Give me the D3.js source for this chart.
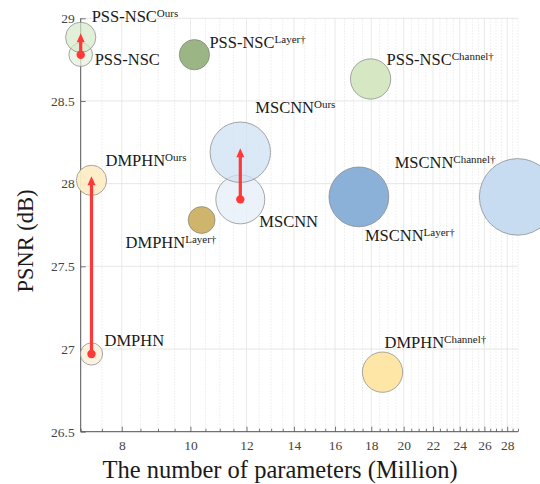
<!DOCTYPE html>
<html>
<head>
<meta charset="utf-8">
<script src="https://cdn.jsdelivr.net/npm/d3@7"></script>
<style>
  html, body { margin: 0; padding: 0; background: #fff; }
  svg { display: block; }
</style>
</head>
<body>
<svg id="chart" width="540" height="484"></svg>
<script>
// ---------- data ----------
const names    = ["PSS-NSC", "PSS-NSC", "PSS-NSC", "PSS-NSC", "MSCNN", "MSCNN", "MSCNN", "MSCNN", "DMPHN", "DMPHN", "DMPHN", "DMPHN"];
const variants = ["", "Ours", "Layer†", "Channel†", "", "Ours", "Layer†", "Channel†", "", "Ours", "Layer†", "Channel†"];
const params   = [7.0, 7.0, 10.13, 17.96, 11.76, 11.76, 17.29, 28.97, 7.25, 7.25, 10.37, 18.67]; // Million
const psnr     = [28.78, 28.885, 28.78, 28.633, 27.905, 28.19, 27.92, 27.92, 26.97, 28.02, 27.78, 26.86]; // dB
const bubble   = [9.5, 15.6, 15.6, 27.7, 40.9, 62.3, 61.0, 100, 8.4, 15.6, 12.3, 27.7]; // relative bubble size
const arrows   = [["PSS-NSC", "PSS-NSC Ours"], ["MSCNN", "MSCNN Ours"], ["DMPHN", "DMPHN Ours"]];
const xTicks   = [8, 10, 12, 14, 16, 18, 20, 22, 24, 26, 28];
const yTicks   = [26.5, 27, 27.5, 28, 28.5, 29];
const xDomain  = [7, 29];
const yDomain  = [26.5, 29];

// ---------- styles ----------
const fills = {
  "PSS-NSC": "#e4f0dc", "PSS-NSC Ours": "#d6eacb", "PSS-NSC Layer†": "#9bb585", "PSS-NSC Channel†": "#d5e8c3",
  "MSCNN": "#e7eff9", "MSCNN Ours": "#cfe0f1", "MSCNN Layer†": "#8cb1d9", "MSCNN Channel†": "#c8dcf1",
  "DMPHN": "#fcf1dd", "DMPHN Ours": "#fdedc6", "DMPHN Layer†": "#cfb56b", "DMPHN Channel†": "#fde6a6"
};
const opac = {
  "PSS-NSC": 0.75, "PSS-NSC Ours": 0.7, "MSCNN": 0.8, "MSCNN Ours": 0.75, "DMPHN": 0.9, "DMPHN Ours": 0.95
};
// label offsets relative to bubble centre (px): [dx, dy]
const labelOff = {
  "PSS-NSC": [14, 10], "PSS-NSC Ours": [11, -15], "PSS-NSC Layer†": [15, -7], "PSS-NSC Channel†": [16, -14],
  "MSCNN": [19, 28], "MSCNN Ours": [15, -39], "MSCNN Layer†": [6, 44], "MSCNN Channel†": [-123, -29],
  "DMPHN": [13, -8], "DMPHN Ours": [14, -14], "DMPHN Layer†": [-76, 28], "DMPHN Channel†": [2, -24]
};

const points = names.map((n, i) => ({
  name: n, variant: variants[i], key: variants[i] ? n + " " + variants[i] : n,
  x: params[i], y: psnr[i], s: bubble[i]
}));
const byKey = Object.fromEntries(points.map(p => [p.key, p]));

// ---------- layout ----------
const svg = d3.select("#chart");
const L = 80.7, R = 518, T = 18.3, B = 431.7;
const x = d3.scaleLog().domain(xDomain).range([L, R]);
const y = d3.scaleLinear().domain(yDomain).range([B, T]);
const r = d3.scaleSqrt().domain([0, 100]).range([0, 38.3]);
const serif = "'Liberation Serif', 'DejaVu Serif', serif";

// minor x ticks every 0.5
const minorX = d3.range(xDomain[0], xDomain[1] + 0.001, 0.5).filter(v => !xTicks.includes(v));

const grid = svg.append("g");
grid.selectAll("line.minor").data(minorX).join("line")
  .attr("x1", d => x(d)).attr("x2", d => x(d)).attr("y1", T).attr("y2", B)
  .attr("stroke", "#e6e6e6").attr("stroke-width", 0.8).attr("stroke-dasharray", "1.5,1.5");
grid.selectAll("line.majx").data(xTicks).join("line")
  .attr("x1", d => x(d)).attr("x2", d => x(d)).attr("y1", T).attr("y2", B)
  .attr("stroke", "#e3e3e3").attr("stroke-width", 0.8);
grid.selectAll("line.majy").data(yTicks).join("line")
  .attr("x1", L).attr("x2", R).attr("y1", d => y(d)).attr("y2", d => y(d))
  .attr("stroke", "#e0e0e0").attr("stroke-width", 0.8);

// axes
const xAxis = d3.axisBottom(x).tickValues(xTicks).tickFormat(d3.format("d")).tickSize(-5).tickPadding(9);
const gx = svg.append("g").attr("transform", `translate(0,${B})`).call(xAxis);
const xMinorAxis = d3.axisBottom(x).tickValues(minorX).tickFormat("").tickSize(-3);
const gxm = svg.append("g").attr("transform", `translate(0,${B})`).call(xMinorAxis);
gxm.select(".domain").remove();
const yAxis = d3.axisLeft(y).tickValues(yTicks).tickFormat(d => d).tickSize(-5).tickPadding(6);
const gy = svg.append("g").attr("transform", `translate(${L},0)`).call(yAxis);
[gx, gxm, gy].forEach(g => {
  g.select(".domain").attr("stroke", "#555").attr("stroke-width", 1);
  g.selectAll(".tick line").attr("stroke", "#555").attr("stroke-width", 0.8);
  g.selectAll(".tick text").attr("fill", "#444").style("font-family", serif).style("font-size", "13.5px");
});
gx.select(".domain").attr("d", `M${L},0H${R}`);
gy.select(".domain").attr("d", `M0,${T}V${B}`);

// bubbles
svg.append("g").selectAll("circle").data(points).join("circle")
  .attr("cx", d => x(d.x)).attr("cy", d => y(d.y)).attr("r", d => r(d.s))
  .attr("fill", d => fills[d.key]).attr("fill-opacity", d => opac[d.key] ?? 1)
  .attr("stroke", "#7f7f7f").attr("stroke-opacity", 0.75).attr("stroke-width", 0.9);

// arrows
const red = "#ff3838";
const ag = svg.append("g");
arrows.forEach(([a, b]) => {
  const p = byKey[a], q = byKey[b];
  const x0 = x(p.x), y0 = y(p.y), x1 = x(q.x), y1 = y(q.y) - 4;
  ag.append("line").attr("x1", x0).attr("y1", y0).attr("x2", x1).attr("y2", y1 + 6)
    .attr("stroke", red).attr("stroke-width", 3.2);
  ag.append("path")
    .attr("d", `M${x1},${y1} L${x1 - 4},${y1 + 9} L${x1 + 4},${y1 + 9} Z`)
    .attr("fill", red);
  ag.append("circle").attr("cx", x0).attr("cy", y0).attr("r", 4.2).attr("fill", red);
});

// labels
const lg = svg.append("g").style("font-family", serif).attr("fill", "#1a1a1a");
points.forEach(p => {
  const [dx, dy] = labelOff[p.key];
  const t = lg.append("text").attr("x", x(p.x) + dx).attr("y", y(p.y) + dy).style("font-size", "16.5px");
  t.append("tspan").text(p.name);
  if (p.variant) {
    t.append("tspan").text(p.variant).style("font-size", "11px").attr("dy", -5);
  }
});

// axis titles
svg.append("text").attr("x", 280).attr("y", 478).attr("text-anchor", "middle")
  .style("font-family", serif).style("font-size", "24.5px").attr("fill", "#1a1a1a")
  .text("The number of parameters (Million)");
svg.append("text").attr("transform", "translate(32.5,241) rotate(-90)").attr("text-anchor", "middle")
  .style("font-family", serif).style("font-size", "22.5px").attr("fill", "#1a1a1a")
  .text("PSNR (dB)");
</script>
</body>
</html>
